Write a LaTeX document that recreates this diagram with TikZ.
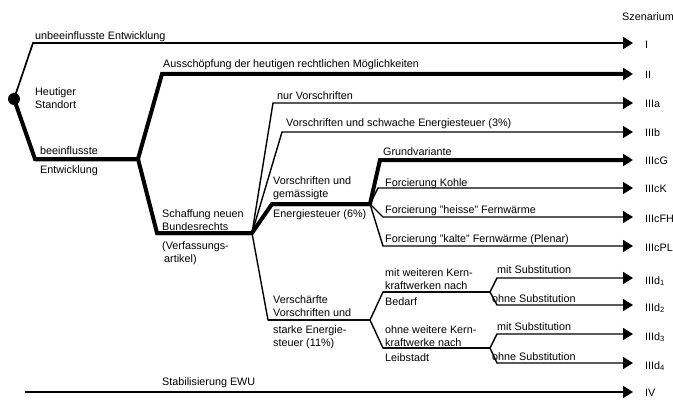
\documentclass[tikz,border=0pt]{standalone}
\usepackage{fontspec}
\setmainfont{Liberation Sans}
\usetikzlibrary{arrows.meta}

\tikzset{
  thinline/.style={line width=1.4pt},
  thickline/.style={line width=4pt},
  toscen/.style={-{Triangle[length=10pt,width=12pt]}},
  lbl/.style={anchor=west, inner sep=0pt, align=left,
    font=\fontsize{10.8}{12.6}\selectfont},
  scen/.style={anchor=west, inner sep=0pt,
    font=\fontsize{10.8}{12.6}\selectfont}
}

\begin{document}
\begin{tikzpicture}[x=1pt,y=-1pt]
    \useasboundingbox (0,0) rectangle (673,412);

    % Branch points
    \coordinate (root) at (14,99);
    \coordinate (bI) at (33,43);       \coordinate (eI) at (633,43);
    \coordinate (bB) at (35,159);      \coordinate (fB) at (138,159);
    \coordinate (bII) at (162,74);     \coordinate (eII) at (633,74);
    \coordinate (bS) at (157,233);     \coordinate (fS) at (252,233);
    \coordinate (bIIIa) at (273,103);  \coordinate (eIIIa) at (633,103);
    \coordinate (bIIIb) at (282,132);  \coordinate (eIIIb) at (633,132);
    \coordinate (bC) at (272,204);     \coordinate (fC) at (370,204);
    \coordinate (bCG) at (380,160);    \coordinate (eCG) at (633,160);
    \coordinate (bCK) at (378,188);    \coordinate (eCK) at (633,188);
    \coordinate (bCFH) at (383,217);   \coordinate (eCFH) at (633,217);
    \coordinate (bCPL) at (383,246);   \coordinate (eCPL) at (633,246);
    \coordinate (bD) at (268,320);     \coordinate (fD) at (370,320);
    \coordinate (bDa) at (383,292);    \coordinate (fDa) at (490,292);
    \coordinate (bD1) at (497,278);    \coordinate (eD1) at (633,278);
    \coordinate (bD2) at (497,305);    \coordinate (eD2) at (633,305);
    \coordinate (bDb) at (383,348);    \coordinate (fDb) at (490,348);
    \coordinate (bD3) at (497,334);    \coordinate (eD3) at (633,334);
    \coordinate (bD4) at (497,363);    \coordinate (eD4) at (633,363);
    \coordinate (sIV) at (25,392);     \coordinate (eIV) at (633,392);

    % Draw Tree
    % -- thin branches
    \draw[line width=1.7pt, toscen] (root) -- (bI) -- (eI);
    \draw[thinline, toscen] (bS) -- (fS) -- (bIIIa) -- (eIIIa);
    \draw[thinline, toscen] (bS) -- (fS) -- (bIIIb) -- (eIIIb);
    \draw[thinline, toscen] (bC) -- (fC) -- (bCK) -- (eCK);
    \draw[thinline, toscen] (bC) -- (fC) -- (bCFH) -- (eCFH);
    \draw[thinline, toscen] (bC) -- (fC) -- (bCPL) -- (eCPL);
    \draw[thinline] (bS) -- (fS) -- (bD) -- (fD);
    \draw[thinline] (bD) -- (fD) -- (bDa) -- (fDa);
    \draw[thinline] (bD) -- (fD) -- (bDb) -- (fDb);
    \draw[thinline, toscen] (bDa) -- (fDa) -- (bD1) -- (eD1);
    \draw[thinline, toscen] (bDa) -- (fDa) -- (bD2) -- (eD2);
    \draw[thinline, toscen] (bDb) -- (fDb) -- (bD3) -- (eD3);
    \draw[thinline, toscen] (bDb) -- (fDb) -- (bD4) -- (eD4);
    \draw[line width=2pt, toscen] (sIV) -- (eIV);

    % -- thick branches
    \draw[thickline] (root) -- (bB) -- (fB);
    \draw[thickline, toscen] (bB) -- (fB) -- (bII) -- (eII);
    \draw[thickline] (bB) -- (fB) -- (bS) -- (fS);
    \draw[thickline] (bS) -- (fS) -- (bC) -- (fC);
    \draw[thickline, toscen] (bC) -- (fC) -- (bCG) -- (eCG);

    % -- start point
    \fill (root) circle (6);

    % Branch Labels
    \node[lbl] (unb) at (35,37) {unbeeinflusste Entwicklung};
    \node[lbl] (heute) at (35,98) {Heutiger\\Standort};
    \node[lbl] (beein) at (40,151) {beeinflusste};
    \node[lbl] (entw) at (40,171) {Entwicklung};
    \node[lbl] (aus) at (163,65) {Ausschöpfung der heutigen rechtlichen Möglichkeiten};
    \node[lbl] (schaff) at (162,220) {Schaffung neuen\\Bundesrechts};
    \node[lbl] (verf) at (162,253) {(Verfassungs-\\\hspace{2pt}artikel)};
    \node[lbl] (nur) at (277,96) {nur Vorschriften};
    \node[lbl] (schw) at (286,124) {Vorschriften und schwache Energiesteuer (3\%)};
    \node[lbl] (gem) at (273,188) {Vorschriften und\\gemässigte};
    \node[lbl] (gem2) at (273,215) {Energiesteuer (6\%)};
    \node[lbl] (grund) at (383,152) {Grundvariante};
    \node[lbl] (kohle) at (385,184) {Forcierung Kohle};
    \node[lbl] (heiss) at (385,211) {Forcierung "heisse" Fernwärme};
    \node[lbl] (kalt) at (385,240) {Forcierung "kalte" Fernwärme (Plenar)};
    \node[lbl] (versch) at (273,306) {Verschärfte\\Vorschriften und};
    \node[lbl] (versch2) at (273,337) {starke Energie-\\steuer (11\%)};
    \node[lbl] (mitk) at (385,279) {mit weiteren Kern-\\kraftwerken nach};
    \node[lbl] (bedarf) at (385,302) {Bedarf};
    \node[lbl] (ohnek) at (385,336) {ohne weitere Kern-\\kraftwerke nach};
    \node[lbl] (leib) at (385,358) {Leibstadt};
    \node[lbl] (sub1) at (497,270) {mit Substitution};
    \node[lbl] (sub2) at (492,299) {ohne Substitution};
    \node[lbl] (sub3) at (497,327) {mit Substitution};
    \node[lbl] (sub4) at (492,357) {ohne Substitution};
    \node[lbl] (ewu) at (162,383) {Stabilisierung EWU};

    % Scenario Labels
    \node[scen] (head) at (622,17) {Szenarium};
    \node[scen] (sI) at (645,45) {I};
    \node[scen] (sII) at (645,75) {II};
    \node[scen] (sIIIa) at (645,104) {IIIa};
    \node[scen] (sIIIb) at (645,133) {IIIb};
    \node[scen] (sIIIcG) at (645,161) {IIIcG};
    \node[scen] (sIIIcK) at (645,189) {IIIcK};
    \node[scen] (sIIIcFH) at (645,219) {IIIcFH};
    \node[scen] (sIIIcPL) at (645,248) {IIIcPL};
    \node[scen] (sIIId1) at (645,281) {IIId\textsubscript{1}};
    \node[scen] (sIIId2) at (645,308) {IIId\textsubscript{2}};
    \node[scen] (sIIId3) at (645,337) {IIId\textsubscript{3}};
    \node[scen] (sIIId4) at (645,366) {IIId\textsubscript{4}};
    \node[scen] (sIV) at (645,393) {IV};
\end{tikzpicture}
\end{document}
